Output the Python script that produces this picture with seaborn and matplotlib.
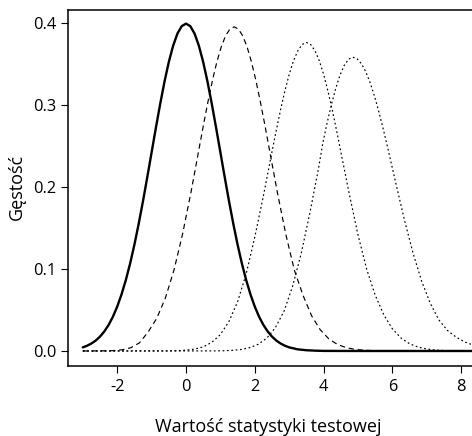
import matplotlib
matplotlib.use("Agg")
import matplotlib.pyplot as plt
import seaborn as sns

# ---- data ----
solid_x = [-3.0, -2.875, -2.75, -2.625, -2.5, -2.375, -2.25, -2.125, -2.0, -1.875, -1.75, -1.625,
           -1.5, -1.375, -1.25, -1.125, -1.0, -0.875, -0.75, -0.625, -0.5, -0.375, -0.25, -0.125,
           0.0, 0.125, 0.25, 0.375, 0.5, 0.625, 0.75, 0.875, 1.0, 1.125, 1.25, 1.375, 1.5, 1.625,
           1.75, 1.875, 2.0, 2.125, 2.25, 2.375, 2.5, 2.625, 2.75, 2.875, 3.0, 3.25, 3.5, 3.75,
           4.0, 5.0, 6.0, 7.0, 8.0, 9.0]
solid_y = [0.0044, 0.0064, 0.0091, 0.0127, 0.0175, 0.0238, 0.0317, 0.0417, 0.0540, 0.0688, 0.0863,
           0.1065, 0.1295, 0.1550, 0.1826, 0.2119, 0.2420, 0.2720, 0.3011, 0.3282, 0.3521, 0.3718,
           0.3867, 0.3958, 0.3989, 0.3958, 0.3867, 0.3718, 0.3521, 0.3282, 0.3011, 0.2720, 0.2420,
           0.2119, 0.1826, 0.1550, 0.1295, 0.1065, 0.0863, 0.0688, 0.0540, 0.0417, 0.0317, 0.0238,
           0.0175, 0.0127, 0.0091, 0.0064, 0.0044, 0.0020, 0.0009, 0.0004, 0.0001, 0.0, 0.0, 0.0,
           0.0, 0.0]

dashed_x = [-3.0, -2.85, -2.6, -2.35, -2.1, -1.85, -1.6, -1.35, -1.1, -0.85, -0.6, -0.35, -0.1,
            0.15, 0.4, 0.525, 0.65, 0.775, 0.9, 1.025, 1.15, 1.275, 1.4, 1.525, 1.65, 1.775, 1.9,
            2.025, 2.15, 2.275, 2.4, 2.65, 2.9, 3.15, 3.4, 3.65, 3.9, 4.15, 4.4, 4.65, 4.9, 5.15,
            5.4, 6.0, 9.0]
dashed_y = [0.0, 0.0, 0.0001, 0.0002, 0.0005, 0.0015, 0.0040, 0.0100, 0.0232, 0.0398, 0.0644,
            0.0985, 0.1424, 0.1945, 0.2510, 0.2792, 0.3061, 0.3309, 0.3527, 0.3706, 0.3840, 0.3922,
            0.3950, 0.3922, 0.3840, 0.3706, 0.3527, 0.3309, 0.3061, 0.2792, 0.2510, 0.1945, 0.1424,
            0.0985, 0.0680, 0.0430, 0.0260, 0.0148, 0.0080, 0.0042, 0.0020, 0.0010, 0.0005, 0.0,
            0.0]

dot1_x = [-3.0, -0.5, -0.25, 0.0, 0.25, 0.5, 0.75, 1.0, 1.25, 1.5, 1.75, 2.0, 2.25, 2.5, 2.625,
          2.75, 2.875, 3.0, 3.125, 3.25, 3.375, 3.5, 3.625, 3.75, 3.875, 4.0, 4.125, 4.25, 4.375,
          4.5, 4.75, 5.0, 5.25, 5.5, 5.75, 6.0, 6.25, 6.5, 6.75, 7.0, 7.25, 7.5, 7.75, 8.0, 9.0]
dot1_y = [0.0, 0.0001, 0.0004, 0.0010, 0.0023, 0.0050, 0.0105, 0.0200, 0.0360, 0.0600, 0.0940,
          0.1390, 0.1890, 0.2429, 0.2691, 0.2941, 0.3170, 0.3372, 0.3536, 0.3658, 0.3734, 0.3760,
          0.3734, 0.3658, 0.3536, 0.3372, 0.3170, 0.2941, 0.2691, 0.2429, 0.1905, 0.1415, 0.1000,
          0.0680, 0.0440, 0.0270, 0.0158, 0.0088, 0.0047, 0.0024, 0.0012, 0.0006, 0.0003, 0.0001,
          0.0]

dot2_x = [-3.0, 0.85, 1.1, 1.35, 1.6, 1.85, 2.1, 2.35, 2.6, 2.85, 3.1, 3.35, 3.6, 3.85, 3.975,
          4.1, 4.225, 4.35, 4.475, 4.6, 4.725, 4.85, 4.975, 5.1, 5.225, 5.35, 5.475, 5.6, 5.725,
          5.85, 6.1, 6.35, 6.6, 6.85, 7.1, 7.35, 7.6, 7.85, 8.1, 8.35, 8.6, 8.85, 9.0]
dot2_y = [0.0, 0.0001, 0.0003, 0.0008, 0.0018, 0.0040, 0.0082, 0.0157, 0.0285, 0.0485, 0.0790,
          0.1190, 0.1680, 0.2220, 0.2530, 0.2775, 0.2999, 0.3196, 0.3359, 0.3480, 0.3555, 0.3580,
          0.3560, 0.3500, 0.3404, 0.3272, 0.3111, 0.2925, 0.2719, 0.2501, 0.2043, 0.1596, 0.1192,
          0.0851, 0.0581, 0.0379, 0.0250, 0.0170, 0.0110, 0.0072, 0.0045, 0.0028, 0.0022]

x_ticks = [-2, 0, 2, 4, 6, 8]
y_ticks = [0.0, 0.1, 0.2, 0.3, 0.4]
y_ticklabels = ["0.0", "0.1", "0.2", "0.3", "0.4"]
x_label = "Wartość statystyki testowej"
y_label = "Gęstość"

# ---- drawing ----
sns.set_theme(style="ticks")
plt.rcParams["font.family"] = ["Open Sans", "DejaVu Sans"]
plt.rcParams["axes.edgecolor"] = "black"
plt.rcParams["xtick.color"] = "black"
plt.rcParams["ytick.color"] = "black"
plt.rcParams["text.color"] = "black"
plt.rcParams["axes.labelcolor"] = "black"

W, H = 472, 436
fig = plt.figure(figsize=(W / 100, H / 100), dpi=100)
L, R, T, B = 68, 510.4, 10, 366
ax = fig.add_axes([L / W, 1 - B / H, (R - L) / W, (B - T) / H])

sns.lineplot(x=solid_x, y=solid_y, ax=ax, color="black", lw=1.7, sort=False)
sns.lineplot(x=dashed_x, y=dashed_y, ax=ax, color="black", lw=0.85,
             linestyle=(0, (4.5, 3.2)), sort=False)
sns.lineplot(x=dot1_x, y=dot1_y, ax=ax, color="black", lw=0.85,
             linestyle=(0, (1.5, 2.2)), sort=False)
sns.lineplot(x=dot2_x, y=dot2_y, ax=ax, color="black", lw=0.85,
             linestyle=(0, (1.5, 2.2)), sort=False)

ax.set_xlim(-3.43, 9.43)
ax.set_ylim(-0.0183, 0.4155)
ax.set_xticks(x_ticks)
ax.set_xticklabels([str(v) for v in x_ticks])
ax.set_yticks(y_ticks)
ax.set_yticklabels(y_ticklabels)
ax.tick_params(direction="out", length=5, width=0.8, labelsize=11.8, pad=3.5)
ax.tick_params(axis="x", pad=4.5)
for s in ax.spines.values():
    s.set_linewidth(1.1)
    s.set_visible(True)

ax.set_xlabel(x_label, fontsize=13)
ax.set_ylabel(y_label, fontsize=13, va="center")
ax.xaxis.set_label_coords((268 - L) / (R - L), (B - 418) / (B - T))
ax.xaxis.label.set_va("top")
ax.yaxis.set_label_coords((17 - L) / (R - L), (B - 187) / (B - T))

fig.savefig("out.png", dpi=100)
